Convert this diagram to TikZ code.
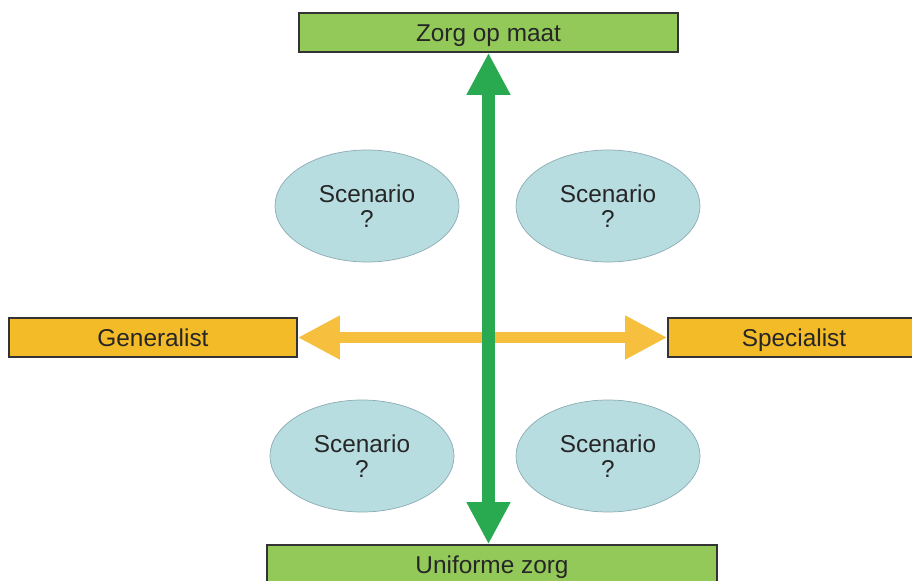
\documentclass[tikz,border=0pt]{standalone}
\usepackage{fontspec}
\setmainfont{Liberation Sans}
\usetikzlibrary{arrows.meta,shapes.geometric}
\definecolor{boxgreen}{RGB}{146,201,89}
\definecolor{boxyellow}{RGB}{244,187,40}
\definecolor{arrowgreen}{RGB}{42,170,80}
\definecolor{arrowyellow}{RGB}{246,192,62}
\definecolor{scenfill}{RGB}{184,221,225}
\definecolor{scenline}{RGB}{140,172,178}
\begin{document}
\begin{tikzpicture}[x=0.03cm,y=-0.03cm,
  label/.style={font=\fontsize{20.8}{21.5}\selectfont, text=black!85},
  axisbox/.style={label, draw=black!80, line width=1.2pt, rectangle,
    minimum height=1.17cm, inner sep=0pt, text height=14.9pt, text depth=0pt},
  scenario/.style={label, ellipse, fill=scenfill, draw=scenline, line width=0.6pt,
    minimum width=5.52cm, minimum height=3.36cm, inner sep=0pt, align=center},
  axisarrow/.style={line width=11pt,
    {Triangle[length=36pt,width=35pt]}-{Triangle[length=36pt,width=35pt]}}
]
\useasboundingbox (0,0) rectangle (912,581);
\clip (0,0) rectangle (912,581);

% axis end boxes
\node[axisbox, fill=boxgreen, minimum width=11.37cm] (top) at (488.5,32.5) {Zorg op maat};
\node[axisbox, fill=boxgreen, minimum width=13.5cm] (bottom) at (492,564.5) {Uniforme zorg};
\node[axisbox, fill=boxyellow, minimum width=8.64cm] (gen) at (153,337.5) {Generalist};
\node[axisbox, fill=boxyellow, minimum width=7.56cm] (spec) at (794,337.5) {Specialist};

% four scenarios
\node[scenario] (s1) at (367,206) {Scenario\\?};
\node[scenario] (s2) at (608,206) {Scenario\\?};
\node[scenario] (s3) at (362,456) {Scenario\\?};
\node[scenario] (s4) at (608,456) {Scenario\\?};

% axes
\draw[axisarrow, draw=arrowyellow, fill=arrowyellow, line width=10pt] (gen.east) -- (spec.west);
\draw[axisarrow, draw=arrowgreen, fill=arrowgreen] (top.south) -- (top.south |- bottom.north);
\end{tikzpicture}
\end{document}
